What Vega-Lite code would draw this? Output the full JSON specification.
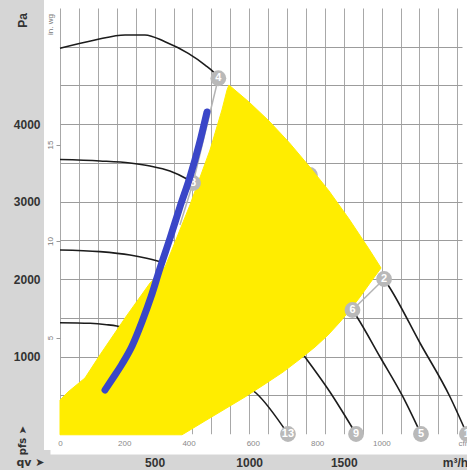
{
 "$schema": "https://vega.github.io/schema/vega-lite/v6.json",
 "width": 402, "height": 426,
 "autosize": "none",
 "padding": {"left": 60, "top": 8, "right": 5, "bottom": 36},
 "background": "#d6d6d6",
 "config": {"view": {"fill": "white", "stroke": "white", "strokeWidth": 32}, "font": "Liberation Sans"},
 "datasets": {
  "curves": [
   {"s":"c1","q":0,"p":4980},{"s":"c1","q":185,"p":5087},{"s":"c1","q":344,"p":5152},{"s":"c1","q":449,"p":5152},{"s":"c1","q":555,"p":5065},{"s":"c1","q":678,"p":4915},{"s":"c1","q":767,"p":4764},{"s":"c1","q":809,"p":4678},{"s":"c1","q":837,"p":4593},
   {"s":"c2","q":0,"p":3544},{"s":"c2","q":211,"p":3525},{"s":"c2","q":370,"p":3499},{"s":"c2","q":476,"p":3460},{"s":"c2","q":581,"p":3396},{"s":"c2","q":661,"p":3305},{"s":"c2","q":703,"p":3241},
   {"s":"c3","q":0,"p":2376},{"s":"c3","q":211,"p":2354},{"s":"c3","q":370,"p":2311},{"s":"c3","q":458,"p":2269},{"s":"c3","q":511,"p":2238},{"s":"c3","q":555,"p":2208},
   {"s":"c4","q":0,"p":1437},{"s":"c4","q":159,"p":1429},{"s":"c4","q":247,"p":1411},{"s":"c4","q":300,"p":1394},{"s":"c4","q":344,"p":1369},
   {"s":"c5","q":1713,"p":2001},{"s":"c5","q":1744,"p":1885},{"s":"c5","q":1903,"p":1175},{"s":"c5","q":2062,"p":478},{"s":"c5","q":2151,"p":0},
   {"s":"c6","q":1546,"p":1601},{"s":"c6","q":1570,"p":1511},{"s":"c6","q":1692,"p":994},{"s":"c6","q":1813,"p":478},{"s":"c6","q":1908,"p":0},
   {"s":"c7","q":1250,"p":1150},{"s":"c7","q":1284,"p":1033},{"s":"c7","q":1427,"p":542},{"s":"c7","q":1565,"p":0},
   {"s":"c8","q":1000,"p":600},{"s":"c8","q":1036,"p":529},{"s":"c8","q":1205,"p":0}
  ],
  "connectors": [
   {"s":"g1","q":837,"p":4593},{"s":"g1","q":703,"p":3241},{"s":"g1","q":634,"p":2699},
   {"s":"g2","q":1713,"p":2001},{"s":"g2","q":1546,"p":1601}
  ],
  "hidden": [{"n":"3","q":1321,"p":3344}],
  "area": [
   {"i":0,"q":0,"p":-10},{"i":1,"q":0,"p":439},{"i":2,"q":42,"p":542},{"i":3,"q":132,"p":723},{"i":4,"q":211,"p":1020},{"i":5,"q":344,"p":1498},{"i":6,"q":476,"p":1950},{"i":7,"q":555,"p":2156},{"i":8,"q":687,"p":2957},{"i":9,"q":793,"p":3667},{"i":10,"q":856,"p":4183},{"i":11,"q":883,"p":4442},{"i":12,"q":893,"p":4506},
   {"i":13,"q":999,"p":4286},{"i":14,"q":1105,"p":4041},{"i":15,"q":1211,"p":3764},{"i":16,"q":1316,"p":3460},{"i":17,"q":1422,"p":3138},{"i":18,"q":1528,"p":2776},{"i":19,"q":1633,"p":2389},{"i":20,"q":1697,"p":2143},
   {"i":21,"q":1639,"p":1950},{"i":22,"q":1586,"p":1769},{"i":23,"q":1533,"p":1601},{"i":24,"q":1480,"p":1446},{"i":25,"q":1417,"p":1278},{"i":26,"q":1348,"p":1123},{"i":27,"q":1269,"p":968},{"i":28,"q":1179,"p":800},{"i":29,"q":1084,"p":646},{"i":30,"q":978,"p":478},{"i":31,"q":872,"p":323},{"i":32,"q":766,"p":168},{"i":33,"q":661,"p":13},{"i":34,"q":645,"p":-10}
  ],
  "labels": [
   {"n":"4","q":837,"p":4593},{"n":"8","q":703,"p":3241},{"n":"2","q":1713,"p":2001},{"n":"6","q":1546,"p":1601},{"n":"13","q":1205,"p":0},{"n":"9","q":1565,"p":0},{"n":"5","q":1908,"p":0},{"n":"1","q":2151,"p":0}
  ],
  "blue": [
   {"q":238,"p":568},{"q":280,"p":723},{"q":328,"p":904},{"q":381,"p":1136},{"q":433,"p":1446},{"q":481,"p":1769},{"q":529,"p":2143},{"q":582,"p":2531},{"q":634,"p":2931},{"q":687,"p":3318},{"q":735,"p":3732},{"q":777,"p":4158}
  ]
 },
 "resolve": {"axis": {"x": "independent", "y": "independent"}},
 "layer": [
  {
   "data": {"name": "curves"},
   "mark": {"type": "line", "color": "#1c1c1c", "strokeWidth": 1.6, "interpolate": "monotone", "clip": false},
   "encoding": {
    "x": {"field": "q", "type": "quantitative", "scale": {"domain": [0, 2125], "nice": false, "zero": false},
     "axis": {"orient": "bottom", "offset": 10, "domain": true, "domainColor": "white", "domainWidth": 20, "domainCap": "square", "grid": false, "ticks": false, "labels": false,
      "title": "qv ➤", "titleX": -30, "titleY": 18, "titleAlign": "center", "titleBaseline": "middle", "titleFont": "DejaVu Sans", "titleFontSize": 11, "titleFontWeight": "bold", "titleColor": "#333"}},
    "y": {"field": "p", "type": "quantitative", "scale": {"domain": [0, 5500], "nice": false, "zero": false},
     "axis": {"orient": "left", "domain": false, "grid": false, "ticks": false, "labels": false,
      "title": "pfs ➤", "titleAngle": 270, "titleX": -38, "titleY": 432, "titleAlign": "center", "titleBaseline": "middle", "titleFont": "DejaVu Sans", "titleFontSize": 10, "titleFontWeight": "bold", "titleColor": "#333"}},
    "detail": {"field": "s"}
   }
  },
  {
   "data": {"name": "connectors"},
   "mark": {"type": "line", "color": "#b4b4b4", "strokeWidth": 1.5},
   "encoding": {
    "x": {"field": "q", "type": "quantitative", "scale": {"domain": [0, 2125], "nice": false, "zero": false},
     "axis": {"orient": "bottom", "values": [0,100,200,300,400,500,600,700,800,900,1000,1100,1200,1300,1400,1500,1600,1700,1800,1900,2000,2100],
      "format": "d", "labelExpr": "(datum.value == 500 || datum.value == 1000 || datum.value == 1500) ? datum.label : ''",
      "grid": true, "gridColor": "#a8a8a8", "gridWidth": 1, "ticks": false, "tickSize": 0, "domain": false,
      "labelFontSize": 12, "labelFontWeight": "bold", "labelColor": "#333", "labelPadding": 28, "labelBaseline": "middle", "labelFlush": false, "labelOverlap": false,
      "title": "m³/h", "titleX": 395, "titleY": 28, "titleAlign": "center", "titleBaseline": "middle", "titleFontSize": 12, "titleFontWeight": "bold", "titleColor": "#333"}},
    "y": {"field": "p", "type": "quantitative", "scale": {"domain": [0, 5500], "nice": false, "zero": false},
     "axis": {"orient": "left", "values": [500,1000,1500,2000,2500,3000,3500,4000,4500,5000],
      "format": "d", "labelExpr": "(datum.value % 1000 == 0 && datum.value < 5000) ? datum.label : ''",
      "grid": true, "gridColor": "#9c9c9c", "gridWidth": 1, "ticks": false, "tickSize": 0, "domain": false,
      "labelFontSize": 12, "labelFontWeight": "bold", "labelColor": "#333", "labelPadding": 20, "labelBaseline": "middle", "labelFlush": false, "labelOverlap": false,
      "title": "Pa", "titleAngle": 270, "titleX": -38, "titleY": 12, "titleAlign": "center", "titleBaseline": "middle", "titleFontSize": 12, "titleFontWeight": "bold", "titleColor": "#333"}},
    "detail": {"field": "s"}
   }
  },
  {
   "data": {"name": "hidden"},
   "mark": {"type": "point", "filled": true, "color": "#b9b9b9", "size": 250, "opacity": 1},
   "encoding": {
    "x": {"field": "q", "type": "quantitative", "scale": {"domain": [0, 2125], "nice": false, "zero": false},
     "axis": {"orient": "bottom", "values": [0, 339.8, 679.6, 1019.4, 1359.2, 1699], "labelExpr": "format(datum.value / 1.699, '.0f')",
      "grid": false, "ticks": false, "tickSize": 0, "domain": false, "labelFontSize": 8, "labelColor": "#8a8a8a", "labelPadding": 9, "labelBaseline": "middle", "labelFlush": false, "labelOverlap": false,
      "title": "cfm", "titleX": 398, "titleY": 9, "titleAlign": "left", "titleBaseline": "middle", "titleFontSize": 8, "titleFontWeight": "normal", "titleColor": "#8a8a8a"}},
    "y": {"field": "p", "type": "quantitative", "scale": {"domain": [0, 5500], "nice": false, "zero": false},
     "axis": {"orient": "left", "values": [1245.4, 2490.9, 3736.3], "labelExpr": "format(datum.value / 249.089, '.0f')",
      "grid": false, "domain": false, "ticks": true, "tickSize": 4, "tickColor": "#999", "tickWidth": 1,
      "labelAngle": 270, "labelAlign": "center", "labelBaseline": "bottom", "labelPadding": 2, "labelFontSize": 8, "labelColor": "#777", "labelFlush": false, "labelOverlap": false,
      "title": "in. wg", "titleAngle": 270, "titleX": -10, "titleY": 16, "titleAlign": "center", "titleBaseline": "middle", "titleFontSize": 8, "titleFontWeight": "normal", "titleColor": "#777"}}
   }
  },
  {
   "data": {"name": "hidden"},
   "mark": {"type": "text", "color": "white", "fontWeight": "bold", "fontSize": 11, "align": "center", "baseline": "middle"},
   "encoding": {
    "x": {"field": "q", "type": "quantitative", "scale": {"domain": [0, 2125], "nice": false, "zero": false}, "axis": null},
    "y": {"field": "p", "type": "quantitative", "scale": {"domain": [0, 5500], "nice": false, "zero": false}, "axis": null},
    "text": {"field": "n"}
   }
  },
  {
   "data": {"name": "area"},
   "mark": {"type": "line", "fill": "#ffed00", "stroke": "#ffed00", "strokeWidth": 1, "interpolate": "linear-closed", "clip": false},
   "encoding": {
    "x": {"field": "q", "type": "quantitative", "scale": {"domain": [0, 2125], "nice": false, "zero": false}, "axis": null},
    "y": {"field": "p", "type": "quantitative", "scale": {"domain": [0, 5500], "nice": false, "zero": false}, "axis": null},
    "order": {"field": "i", "type": "quantitative"}
   }
  },
  {
   "data": {"name": "labels"},
   "mark": {"type": "point", "filled": true, "color": "#b9b9b9", "size": 250, "opacity": 1, "clip": false},
   "encoding": {
    "x": {"field": "q", "type": "quantitative", "scale": {"domain": [0, 2125], "nice": false, "zero": false}, "axis": null},
    "y": {"field": "p", "type": "quantitative", "scale": {"domain": [0, 5500], "nice": false, "zero": false}, "axis": null}
   }
  },
  {
   "data": {"name": "labels"},
   "mark": {"type": "text", "color": "white", "fontWeight": "bold", "fontSize": 11, "align": "center", "baseline": "middle", "clip": false},
   "encoding": {
    "x": {"field": "q", "type": "quantitative", "scale": {"domain": [0, 2125], "nice": false, "zero": false}, "axis": null},
    "y": {"field": "p", "type": "quantitative", "scale": {"domain": [0, 5500], "nice": false, "zero": false}, "axis": null},
    "text": {"field": "n"}
   }
  },
  {
   "data": {"name": "blue"},
   "mark": {"type": "line", "color": "#3a46c8", "strokeWidth": 7, "strokeCap": "round", "interpolate": "monotone"},
   "encoding": {
    "x": {"field": "q", "type": "quantitative", "scale": {"domain": [0, 2125], "nice": false, "zero": false}, "axis": null},
    "y": {"field": "p", "type": "quantitative", "scale": {"domain": [0, 5500], "nice": false, "zero": false}, "axis": null}
   }
  }
 ]
}
